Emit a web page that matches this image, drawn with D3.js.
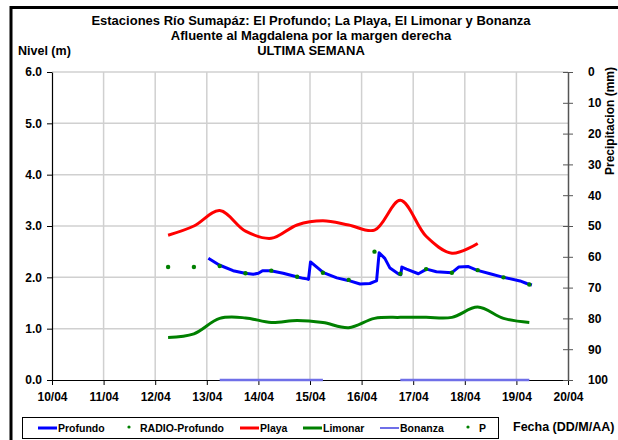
<!DOCTYPE html>
<html>
<head>
<meta charset="utf-8">
<script src="https://cdn.jsdelivr.net/npm/d3@7/dist/d3.min.js"></script>
<style>
  body { margin: 0; background: #fff; }
  svg text { font-family: "Liberation Sans", Arial, sans-serif; font-weight: bold; fill: #000; }
</style>
</head>
<body>
<svg id="chart" width="618" height="440"></svg>
<script>
// ---- datos ----
var titulos = ["Estaciones Río Sumapáz: El Profundo; La Playa, El Limonar y Bonanza",
               "Afluente al Magdalena por la margen derecha",
               "ULTIMA SEMANA"];
var diasTicks = [10, 11, 12, 13, 14, 15, 16, 17, 18, 19, 20];
var diasLabels = ["10/04", "11/04", "12/04", "13/04", "14/04", "15/04", "16/04", "17/04", "18/04", "19/04", "20/04"];
var nivelTicks = [0, 1, 2, 3, 4, 5, 6];
var precTicks = [0, 10, 20, 30, 40, 50, 60, 70, 80, 90, 100];

// lecturas cada 12 h (6am / 6pm)
var horas12 = [12.25, 12.75, 13.25, 13.75, 14.25, 14.75, 15.25, 15.75, 16.25, 16.75, 17.25, 17.75, 18.25, 18.75, 19.25];
var radioProfundo = [2.20, 2.20, 2.22, 2.08, 2.13, 2.01, 2.09, 1.95, 2.50, 2.07, 2.16, 2.09, 2.14, 2.00, 1.86];
var playa   = [2.82, 3.00, 3.30, 2.90, 2.76, 3.02, 3.10, 3.02, 2.92, 3.50, 2.80, 2.47, 2.66, null, null];
var limonar = [0.83, 0.90, 1.20, 1.21, 1.12, 1.16, 1.12, 1.02, 1.20, 1.22, 1.22, 1.22, 1.42, 1.20, 1.12];
var bonanza = [null, null, 0, 0, 0, 0, 0, null, null, 0, 0, 0, 0, 0, 0];

// telemetria Profundo
var profundoDia = [13.03, 13.24, 13.51, 13.74, 13.90, 14.00, 14.08, 14.24, 14.48, 14.74, 14.87, 14.94, 14.97, 15.01,
                   15.26, 15.52, 15.74, 15.97, 16.16, 16.26, 16.29, 16.34, 16.45, 16.55, 16.71, 16.76, 16.78, 16.87,
                   17.10, 17.26, 17.45, 17.75, 17.88, 18.07, 18.23, 18.49, 18.75, 19.07, 19.20, 19.30];
var profundo = [2.37, 2.24, 2.13, 2.08, 2.06, 2.08, 2.13, 2.13, 2.08, 2.01, 1.98, 1.97, 1.96, 2.30,
                2.09, 1.99, 1.94, 1.87, 1.88, 1.92, 1.93, 2.48, 2.37, 2.18, 2.07, 2.05, 2.20, 2.16,
                2.07, 2.16, 2.11, 2.09, 2.20, 2.21, 2.14, 2.07, 2.00, 1.93, 1.88, 1.85];

var svg = d3.select("#chart");
var L = 52, R = 568, T = 72, B = 380;

var x = d3.scaleLinear().domain([10, 20]).range([L, R]);
var y = d3.scaleLinear().domain([0, 6]).range([B, T]);
var y2 = d3.scaleLinear().domain([0, 100]).range([T, B]);

// marco
svg.append("path").attr("d", "M11,440 V7.5 H618").attr("fill", "none")
   .attr("stroke", "#000").attr("stroke-width", 3);

// titulos
var tY = [25, 40, 55];
titulos.forEach(function (t, i) {
    svg.append("text").attr("x", 311).attr("y", tY[i]).attr("text-anchor", "middle")
       .style("font-size", "13px").text(t);
});
svg.append("text").attr("x", 18).attr("y", 55).style("font-size", "12.5px").text("Nivel (m)");

// grilla
var g = svg.append("g");
g.selectAll(".gv").data(diasTicks.slice(1, -1)).enter().append("line")
  .attr("x1", d => x(d)).attr("x2", d => x(d)).attr("y1", T).attr("y2", B)
  .attr("stroke", "#d0d0d0").attr("stroke-width", 1.5);
g.selectAll(".gh").data(nivelTicks.slice(1)).enter().append("line")
  .attr("x1", L).attr("x2", R).attr("y1", d => y(d)).attr("y2", d => y(d))
  .attr("stroke", "#d0d0d0").attr("stroke-width", 1.5);

// ejes
var ax = svg.append("g").attr("transform", "translate(0," + B + ")")
  .call(d3.axisBottom(x).tickValues(diasTicks).tickFormat((d, i) => diasLabels[i]).tickSize(5).tickSizeOuter(0));
ax.select(".domain").attr("stroke", "#000").attr("stroke-width", 1.2);
ax.selectAll("line").attr("stroke", "#000");
ax.selectAll("text").style("font-size", "12px").attr("y", 10).attr("dy", "0.9em");

var ay = svg.append("g").attr("transform", "translate(" + L + ",0)")
  .call(d3.axisLeft(y).tickValues(nivelTicks).tickFormat(d3.format(".1f")).tickSize(5).tickSizeOuter(0));
ay.select(".domain").attr("stroke", "#000").attr("stroke-width", 1.2);
ay.selectAll("line").attr("stroke", "#000");
ay.selectAll("text").style("font-size", "12px").attr("x", -10);

var ay2 = svg.append("g").attr("transform", "translate(" + R + ",0)")
  .call(d3.axisRight(y2).tickValues(precTicks).tickSize(5).tickSizeOuter(0));
ay2.select(".domain").attr("stroke", "#555").attr("stroke-width", 1.5);
ay2.selectAll(".tick line").attr("stroke", "#555").attr("x1", -5).attr("x2", 5);
ay2.selectAll("text").style("font-size", "12px").attr("x", 20);

svg.append("text").attr("transform", "translate(614,121) rotate(-90)")
   .attr("text-anchor", "middle").style("font-size", "12px").text("Precipitacion (mm)");
svg.append("text").attr("x", 513).attr("y", 431).style("font-size", "12.5px").text("Fecha (DD/M/AA)");

// series
var curva = d3.line().defined(d => d[1] != null).x(d => x(d[0])).y(d => y(d[1]))
  .curve(d3.curveCatmullRom.alpha(0.5));
var recta = d3.line().defined(d => d[1] != null).x(d => x(d[0])).y(d => y(d[1]));

function par(xs, vs) { return xs.map((d, i) => [d, vs[i]]); }

svg.append("path").datum(par(horas12, bonanza)).attr("d", recta)
   .attr("fill", "none").attr("stroke", "#6f6fe8").attr("stroke-width", 2.5);
svg.append("path").datum(par(horas12, playa)).attr("d", curva)
   .attr("fill", "none").attr("stroke", "#ff0000").attr("stroke-width", 3);
svg.append("path").datum(par(horas12, limonar)).attr("d", curva)
   .attr("fill", "none").attr("stroke", "#008000").attr("stroke-width", 3);
svg.append("path").datum(par(profundoDia, profundo)).attr("d", recta)
   .attr("fill", "none").attr("stroke", "#0000ff").attr("stroke-width", 3).attr("stroke-linejoin", "round");
svg.selectAll(".radio").data(par(horas12, radioProfundo)).enter().append("circle")
   .attr("cx", d => x(d[0])).attr("cy", d => y(d[1])).attr("r", 2.2).attr("fill", "#008000");

// leyenda
var lg = svg.append("g");
lg.append("rect").attr("x", 22.5).attr("y", 417.5).attr("width", 476).attr("height", 21)
  .attr("fill", "#fff").attr("stroke", "#000").attr("stroke-width", 1);
var items = [
  { nombre: "Profundo", tipo: "linea", color: "#0000ff", x0: 38 },
  { nombre: "RADIO-Profundo", tipo: "punto", color: "#008000", x0: 129 },
  { nombre: "Playa", tipo: "linea", color: "#ff0000", x0: 240 },
  { nombre: "Limonar", tipo: "linea", color: "#008000", x0: 303 },
  { nombre: "Bonanza", tipo: "linea", color: "#6f6fe8", x0: 380 },
  { nombre: "P", tipo: "punto", color: "#008000", x0: 468 }
];
items.forEach(function (it) {
    if (it.tipo === "linea") {
        lg.append("line").attr("x1", it.x0).attr("x2", it.x0 + 19).attr("y1", 428).attr("y2", 428)
          .attr("stroke", it.color).attr("stroke-width", it.nombre === "Bonanza" ? 2 : 3);
        lg.append("text").attr("x", it.x0 + 20).attr("y", 432).style("font-size", "10.5px").text(it.nombre);
    } else {
        lg.append("circle").attr("cx", it.x0).attr("cy", 427).attr("r", 1.6).attr("fill", it.color);
        lg.append("text").attr("x", it.x0 + 11).attr("y", 432).style("font-size", "10.5px").text(it.nombre);
    }
});
</script>
</body>
</html>
